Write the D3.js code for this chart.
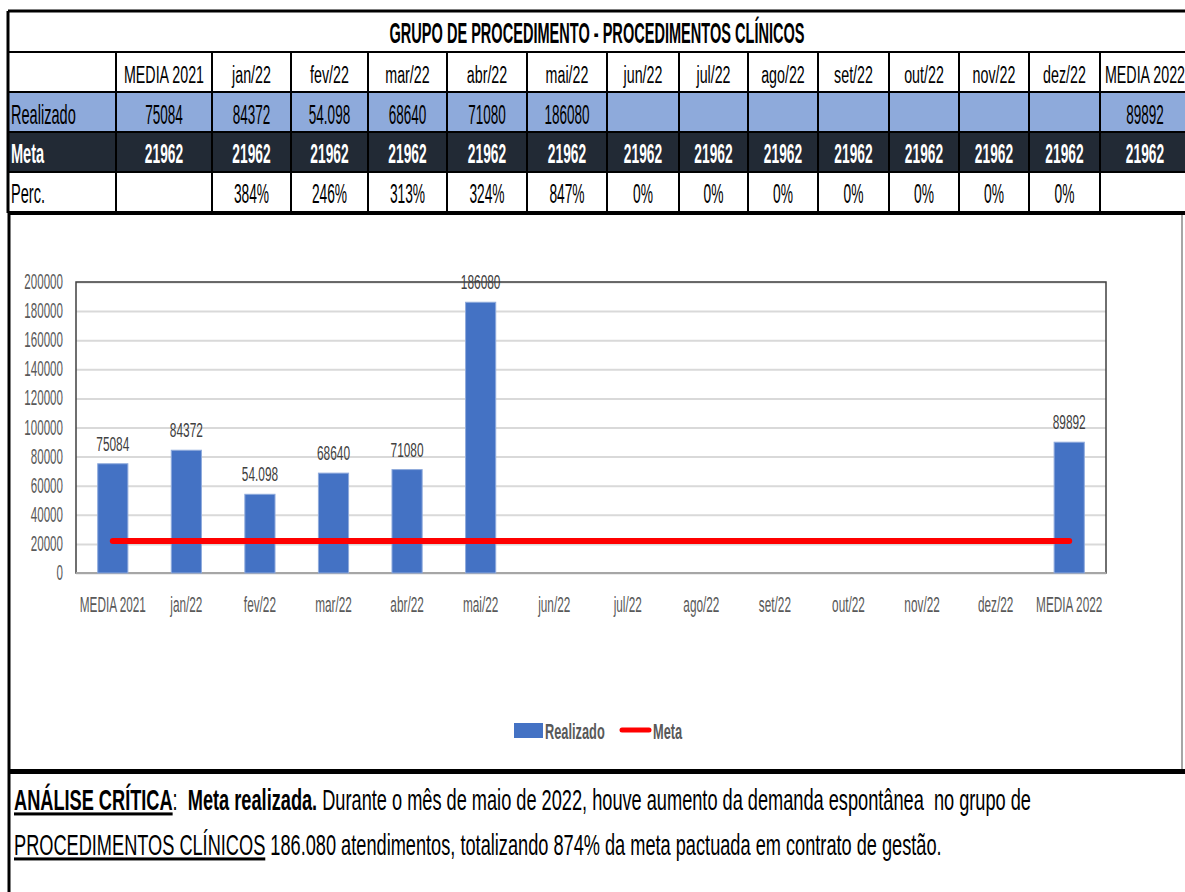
<!DOCTYPE html>
<html>
<head>
<meta charset="utf-8">
<script src="https://cdn.jsdelivr.net/npm/d3@7"></script>
<style>
  body { margin: 0; background: #fff; }
  svg text { font-family: "Liberation Sans", Arial, sans-serif; white-space: pre; }
</style>
</head>
<body>
<div id="chart"></div>
<script>
// ---- data ----
const categories = ["MEDIA 2021", "jan/22", "fev/22", "mar/22", "abr/22", "mai/22", "jun/22",
    "jul/22", "ago/22", "set/22", "out/22", "nov/22", "dez/22", "MEDIA 2022"];
const realizado = [75084, 84372, 54098, 68640, 71080, 186080, null, null, null, null, null, null, null, 89892];
const realizadoText = ["75084", "84372", "54.098", "68640", "71080", "186080", "", "", "", "", "", "", "", "89892"];
const meta = [21962, 21962, 21962, 21962, 21962, 21962, 21962, 21962, 21962, 21962, 21962, 21962, 21962, 21962];
const perc = ["", "384%", "246%", "313%", "324%", "847%", "0%", "0%", "0%", "0%", "0%", "0%", "0%", ""];
const yTicks = [0, 20000, 40000, 60000, 80000, 100000, 120000, 140000, 160000, 180000, 200000];
const title = "GRUPO DE PROCEDIMENTO - PROCEDIMENTOS CLÍNICOS";

// ---- layout ----
const W = 1185, H = 892;
const colEdges = [8, 116, 212, 291, 368, 447, 527, 607, 679, 748, 818, 889, 959, 1029, 1100, 1190];
const rowEdges = [11, 52, 92, 132, 172, 213];
const blue = '#4472c4', red = '#ff0000', gray = '#595959';

const svg = d3.select('#chart').append('svg')
    .attr('width', W).attr('height', H);

// squeezed text helper (the source font is very condensed and a bit tall)
function txt(g, x, y, s, o) {
    o = o || {};
    return g.append('text')
        .attr('transform', `translate(${x},${y}) scale(${o.k || 0.6},${o.ky || 1.08})`)
        .attr('text-anchor', o.anchor || 'middle')
        .attr('font-size', o.size || 20)
        .attr('font-weight', o.bold ? 'bold' : null)
        .attr('fill', o.fill || '#000')
        .text(s);
}

// ---- table ----
const table = svg.append('g');
const left = colEdges[0], right = colEdges[colEdges.length - 1];
const cellX = i => colEdges[i + 1];          // data column i starts here
const cellW = i => colEdges[i + 2] - colEdges[i + 1];

// row fills
table.append('rect').attr('x', left).attr('y', rowEdges[2]).attr('width', right - left)
    .attr('height', rowEdges[3] - rowEdges[2]).attr('fill', '#8eaadb');
table.append('rect').attr('x', left).attr('y', rowEdges[3]).attr('width', right - left)
    .attr('height', rowEdges[4] - rowEdges[3]).attr('fill', '#222a35');

// grid lines
rowEdges.forEach((y, i) => {
    table.append('line').attr('x1', left).attr('x2', right).attr('y1', y).attr('y2', y)
        .attr('stroke', '#000').attr('stroke-width', i === 0 ? 3 : (i === rowEdges.length - 1 ? 4 : 2));
});
colEdges.slice(0, -1).forEach((x, i) => {
    table.append('line').attr('x1', x).attr('x2', x)
        .attr('y1', i === 0 ? rowEdges[0] : rowEdges[1]).attr('y2', rowEdges[5])
        .attr('stroke', '#000').attr('stroke-width', i === 0 ? 3 : 2);
});

txt(table, 597, 43, title, { size: 28, k: 0.52, bold: true });

categories.forEach((c, i) => {
    const cx = cellX(i) + cellW(i) / 2;
    txt(table, cx, 83, c, { size: 23, k: 0.62 });
    if (realizadoText[i]) txt(table, cx, 124, realizadoText[i], { size: 26, k: 0.52 });
    txt(table, cx, 163, meta[i], { size: 26, k: 0.53, bold: true, fill: '#fff' });
    if (perc[i]) txt(table, cx, 203, perc[i], { size: 26, k: 0.53 });
});
txt(table, 11, 124, 'Realizado', { size: 26, k: 0.56, anchor: 'start' });
txt(table, 11, 163, 'Meta', { size: 26, k: 0.56, anchor: 'start', bold: true, fill: '#fff' });
txt(table, 11, 203, 'Perc.', { size: 26, k: 0.56, anchor: 'start' });

// ---- chart frame ----
svg.append('line').attr('x1', 9).attr('x2', 9).attr('y1', 213).attr('y2', 892)
    .attr('stroke', '#000').attr('stroke-width', 3);
svg.append('line').attr('x1', 1182).attr('x2', 1182).attr('y1', 215).attr('y2', 770)
    .attr('stroke', '#a6a6a6').attr('stroke-width', 2);
svg.append('line').attr('x1', 8).attr('x2', W).attr('y1', 771.5).attr('y2', 771.5)
    .attr('stroke', '#000').attr('stroke-width', 5);

const plot = { left: 76, right: 1106, top: 282, bottom: 573 };
const x = d3.scaleBand().domain(categories).range([plot.left, plot.right])
    .paddingInner(0.59).paddingOuter(0.295);
const y = d3.scaleLinear().domain([0, 200000]).range([plot.bottom, plot.top]);

const chart = svg.append('g');

// gridlines
chart.append('g')
    .attr('transform', `translate(${plot.left},0)`)
    .call(d3.axisLeft(y).tickValues(yTicks).tickSize(-(plot.right - plot.left)).tickFormat(''))
    .call(g => g.select('.domain').remove())
    .call(g => g.selectAll('line').attr('stroke', '#d9d9d9').attr('stroke-width', 2));

// y labels
yTicks.forEach(t => txt(chart, 63, y(t) + 7, t, { size: 20, k: 0.58, anchor: 'end', fill: gray }));

// plot border
chart.append('rect').attr('x', plot.left).attr('y', plot.top)
    .attr('width', plot.right - plot.left).attr('height', plot.bottom - plot.top)
    .attr('fill', 'none').attr('stroke', '#404040').attr('stroke-width', 1.5);
chart.append('line').attr('x1', plot.left).attr('x2', plot.right)
    .attr('y1', plot.bottom).attr('y2', plot.bottom).attr('stroke', '#a6a6a6').attr('stroke-width', 2);

// bars
const barData = categories.map((c, i) => ({ c, v: realizado[i], label: realizadoText[i] }))
    .filter(d => d.v !== null);
chart.selectAll('rect.bar').data(barData).enter().append('rect')
    .attr('class', 'bar')
    .attr('x', d => x(d.c))
    .attr('y', d => y(d.v))
    .attr('width', x.bandwidth())
    .attr('height', d => y(0) - y(d.v))
    .attr('fill', blue)
    .attr('stroke', '#8faadc').attr('stroke-width', 1);

barData.forEach(d => txt(chart, x(d.c) + x.bandwidth() / 2, y(d.v) - 13, d.label,
    { size: 18, k: 0.66, fill: '#404040' }));

// meta line
const line = d3.line()
    .x((d, i) => x(categories[i]) + x.bandwidth() / 2)
    .y(d => y(d));
chart.append('path').datum(meta)
    .attr('d', line)
    .attr('fill', 'none').attr('stroke', red).attr('stroke-width', 6).attr('stroke-linecap', 'round');

// x labels
categories.forEach(c => txt(chart, x(c) + x.bandwidth() / 2, 612, c, { size: 20, k: 0.59, fill: gray }));

// legend
const leg = svg.append('g');
leg.append('rect').attr('x', 514).attr('y', 723).attr('width', 29).attr('height', 15).attr('fill', blue);
txt(leg, 545, 739, 'Realizado', { size: 21, k: 0.61, anchor: 'start', bold: true, fill: gray });
leg.append('line').attr('x1', 622).attr('x2', 649).attr('y1', 730).attr('y2', 730)
    .attr('stroke', red).attr('stroke-width', 5).attr('stroke-linecap', 'round');
txt(leg, 653, 739, 'Meta', { size: 21, k: 0.61, anchor: 'start', bold: true, fill: gray });

// ---- analysis text ----
const note = svg.append('g');
const l1 = note.append('text')
    .attr('transform', 'translate(14,810) scale(0.65,1.08)')
    .attr('font-size', 28).attr('fill', '#000');
l1.append('tspan').attr('font-weight', 'bold').attr('text-decoration', 'underline').text('ANÁLISE CRÍTICA');
l1.append('tspan').text(':  ');
l1.append('tspan').attr('font-weight', 'bold').text('Meta realizada.');
l1.append('tspan').text(' Durante o mês de maio de 2022, houve aumento da demanda espontânea  no grupo de');

const l2 = note.append('text')
    .attr('transform', 'translate(14,855) scale(0.65,1.08)')
    .attr('font-size', 28).attr('fill', '#000');
l2.append('tspan').attr('text-decoration', 'underline').text('PROCEDIMENTOS CLÍNICOS');
l2.append('tspan').text(' 186.080 atendimentos, totalizando 874% da meta pactuada em contrato de gestão.');
</script>
</body>
</html>
